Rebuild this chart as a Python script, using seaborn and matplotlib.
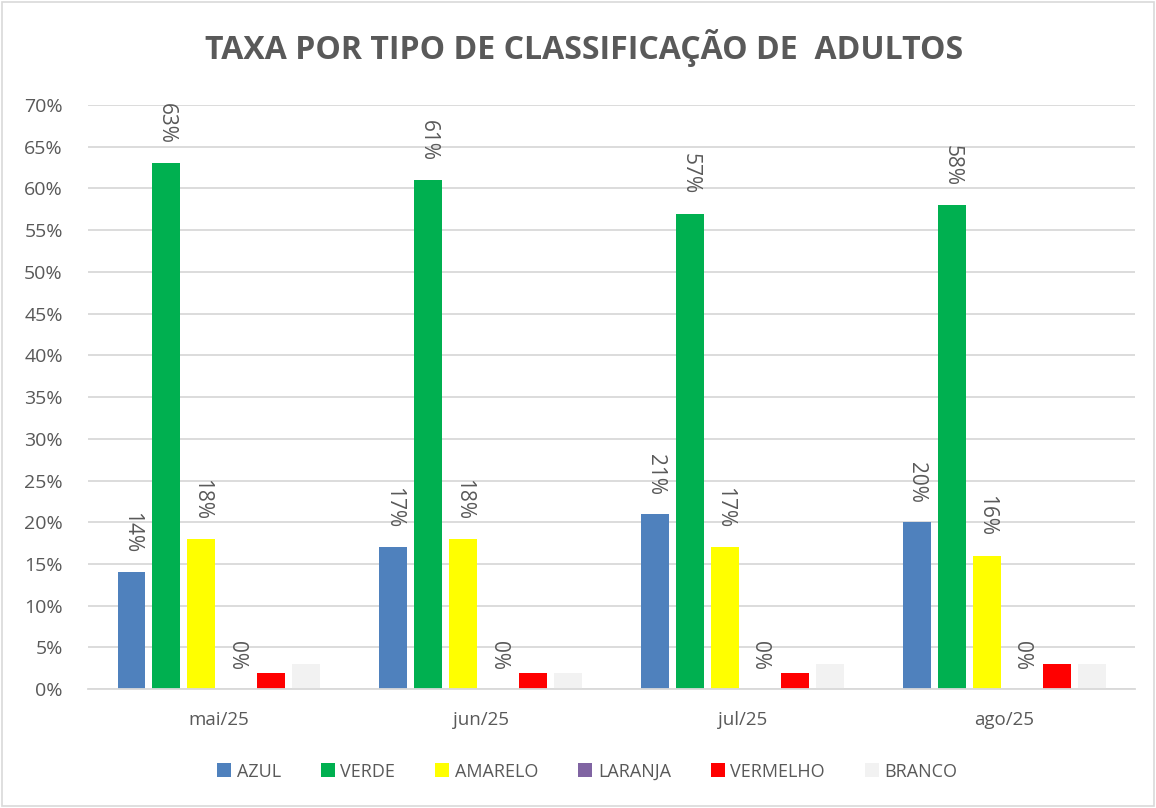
import matplotlib
matplotlib.use("Agg")
import matplotlib.pyplot as plt
import seaborn as sns
import pandas as pd
from matplotlib.patches import Patch, Rectangle
from matplotlib.ticker import FuncFormatter, MultipleLocator, FixedLocator

months = ["mai/25", "jun/25", "jul/25", "ago/25"]
series = ["AZUL", "VERDE", "AMARELO", "LARANJA", "VERMELHO", "BRANCO"]
azul = [14, 17, 21, 20]
verde = [63, 61, 57, 58]
amarelo = [18, 18, 17, 16]
laranja = [0, 0, 0, 0]
vermelho = [2, 2, 2, 3]
branco = [3, 2, 3, 3]
colors = ["#4F81BD", "#00B050", "#FFFF00", "#8064A2", "#FF0000", "#F2F2F2"]
labeled = ["AZUL", "VERDE", "AMARELO", "LARANJA"]

values = {"AZUL": azul, "VERDE": verde, "AMARELO": amarelo,
          "LARANJA": laranja, "VERMELHO": vermelho, "BRANCO": branco}
rows = []
for s in series:
    for m, v in zip(months, values[s]):
        rows.append({"mes": m, "tipo": s, "valor": v})
df = pd.DataFrame(rows)

sns.set_style("white")
plt.rcParams["font.family"] = ["Open Sans", "DejaVu Sans"]
text_col = "#595959"

fig = plt.figure(figsize=(11.56, 8.08), dpi=100)
ax = fig.add_axes([0.076, 0.147, 0.906, 0.723])

sns.barplot(data=df, x="mes", y="valor", hue="tipo", order=months,
            hue_order=series, palette=colors, width=0.8, gap=0.2,
            saturation=1, ax=ax, legend=False, linewidth=0)

for cont, s in zip(ax.containers, series):
    if s in labeled:
        ax.bar_label(cont, labels=[f"{v:.0f}%" for v in cont.datavalues],
                     rotation=270, padding=14, fontsize=15, color=text_col)

ax.set_ylim(0, 70)
ax.set_xlim(-0.5, 3.5)
ax.yaxis.set_major_locator(MultipleLocator(5))
ax.yaxis.set_major_formatter(FuncFormatter(lambda v, p: f"{v:.0f}%"))
ax.grid(axis="y", color="#D9D9D9", linewidth=1.3)
ax.set_axisbelow(True)
for sp in ["top", "right", "left"]:
    ax.spines[sp].set_visible(False)
ax.spines["bottom"].set_color("#D9D9D9")
ax.spines["bottom"].set_linewidth(1.3)
ax.set_xlabel("")
ax.set_ylabel("")
ax.tick_params(axis="y", length=0, labelsize=14, labelcolor=text_col, pad=18)
ax.tick_params(axis="x", which="major", length=0, labelsize=13.5,
               labelcolor=text_col, pad=16)
ax.xaxis.set_minor_locator(FixedLocator([-0.5, 0.5, 1.5, 2.5, 3.5]))
ax.tick_params(axis="x", which="minor", length=6, color="#D9D9D9", width=1.3)

fig.text(0.505, 0.940, "TAXA POR TIPO DE CLASSIFICAÇÃO DE  ADULTOS",
         ha="center", va="center", fontsize=23, fontweight="bold",
         color=text_col)

handles = [Patch(facecolor=c, edgecolor="none") for c in colors]
fig.legend(handles, series, loc="center", bbox_to_anchor=(0.508, 0.045),
           ncol=6, frameon=False, fontsize=13, handlelength=0.8,
           handleheight=0.8, handletextpad=0.3, columnspacing=2.2,
           labelcolor=text_col)

fig.patches.append(Rectangle((0.002, 0.002), 0.996, 0.996,
                             transform=fig.transFigure, fill=False,
                             edgecolor="#D9D9D9", linewidth=1.2))

fig.savefig("out.png", dpi=100)
